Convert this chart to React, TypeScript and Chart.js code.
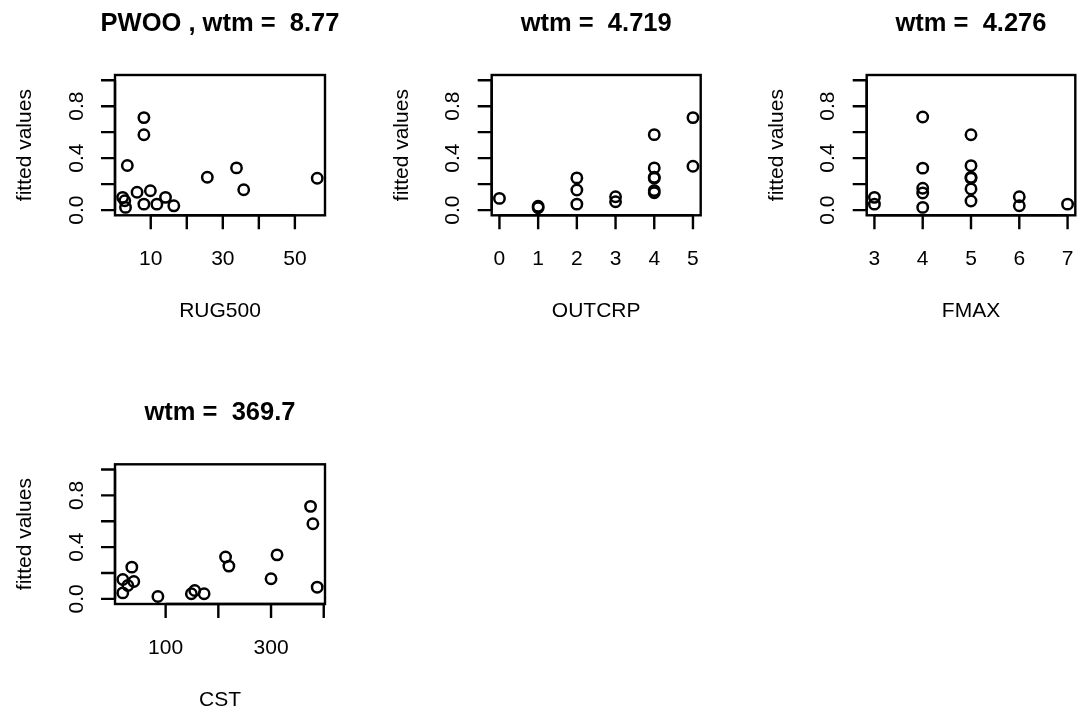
import React, { useEffect, useRef } from "react";
import { Chart, registerables } from "chart.js";

Chart.register(...registerables);

// ---------- data ----------
const titles = ["PWOO , wtm =  8.77", "wtm =  4.719", "wtm =  4.276", "wtm =  369.7"];
const xLabels = ["RUG500", "OUTCRP", "FMAX", "CST"];
const yLabel = "fitted values";

const rugX = [2.2, 2.8, 3.0, 3.5, 6.2, 8.1, 8.1, 8.1, 9.9, 11.7, 14.1, 16.4, 25.7, 33.8, 35.8, 56.2];
const rugY = [0.098, 0.072, 0.021, 0.343, 0.137, 0.712, 0.58, 0.046, 0.149, 0.046, 0.098, 0.033, 0.253, 0.325, 0.157, 0.245];

const outX = [0, 1, 1, 2, 2, 2, 3, 3, 4, 4, 4, 4, 4, 4, 5, 5];
const outY = [0.09, 0.018, 0.03, 0.248, 0.155, 0.046, 0.103, 0.064, 0.581, 0.325, 0.253, 0.245, 0.15, 0.134, 0.712, 0.338];

const fmX = [3, 3, 4, 4, 4, 4, 4, 5, 5, 5, 5, 5, 5, 6, 6, 7];
const fmY = [0.098, 0.046, 0.717, 0.323, 0.168, 0.132, 0.021, 0.58, 0.342, 0.252, 0.245, 0.163, 0.07, 0.103, 0.034, 0.046];

const cstX = [18.7, 18.7, 28.2, 35.8, 39.6, 85.3, 148.8, 155.2, 173, 213.7, 220, 300, 311.4, 375, 379.4, 387.6];
const cstY = [0.149, 0.046, 0.103, 0.245, 0.134, 0.018, 0.039, 0.064, 0.039, 0.323, 0.253, 0.155, 0.34, 0.715, 0.58, 0.09];

const rugTicks = [10, 20, 30, 40, 50];
const rugTickLabels = ["10", "", "30", "", "50"];
const outTicks = [0, 1, 2, 3, 4, 5];
const outTickLabels = ["0", "1", "2", "3", "4", "5"];
const fmTicks = [3, 4, 5, 6, 7];
const fmTickLabels = ["3", "4", "5", "6", "7"];
const cstTicks = [100, 200, 300, 400];
const cstTickLabels = ["100", "", "300", ""];
const yTicks = [0, 0.2, 0.4, 0.6, 0.8, 1.0];
const yTickLabels = ["0.0", "", "0.4", "", "0.8", ""];

const xRanges = [
  [0.08, 58.36],
  [-0.2, 5.2],
  [2.84, 7.16],
  [3.9, 402.4],
];
const yRange = [-0.04, 1.04];

// ---------- layout ----------
const FONT = '"Liberation Sans", Arial, Helvetica, sans-serif';
const LW = 2.4;

type Panel = {
  left: number;
  top: number;
  w: number;
  h: number;
  box: { l: number; r: number; t: number; b: number };
  xs: number[];
  ys: number[];
  ticks: number[];
  tickLabels: string[];
  xr: number[];
  title: string;
  xlab: string;
};

const panels: Panel[] = [
  { left: 0, top: 0, w: 361, h: 356, box: { l: 115, r: 325, t: 75, b: 215.3 }, xs: rugX, ys: rugY, ticks: rugTicks, tickLabels: rugTickLabels, xr: xRanges[0], title: titles[0], xlab: xLabels[0] },
  { left: 361, top: 0, w: 361, h: 356, box: { l: 491.7, r: 700.7, t: 75, b: 215.3 }, xs: outX, ys: outY, ticks: outTicks, tickLabels: outTickLabels, xr: xRanges[1], title: titles[1], xlab: xLabels[1] },
  { left: 722, top: 0, w: 361, h: 356, box: { l: 866.7, r: 1076, t: 75, b: 215.3 }, xs: fmX, ys: fmY, ticks: fmTicks, tickLabels: fmTickLabels, xr: xRanges[2], title: titles[2], xlab: xLabels[2] },
  { left: 0, top: 356, w: 361, h: 357, box: { l: 115, r: 325, t: 464.3, b: 604 }, xs: cstX, ys: cstY, ticks: cstTicks, tickLabels: cstTickLabels, xr: xRanges[3], title: titles[3], xlab: xLabels[3] },
];

function makeAxesPlugin(p: Panel) {
  return {
    id: "rAxes",
    afterDraw(chart: any) {
      const ctx = chart.ctx as CanvasRenderingContext2D;
      const { left, right, top, bottom } = chart.chartArea;
      const xs = chart.scales.x;
      const ys = chart.scales.y;
      ctx.save();
      ctx.strokeStyle = "#000";
      ctx.fillStyle = "#000";
      ctx.lineWidth = LW;
      ctx.lineCap = "butt";
      // box
      ctx.strokeRect(left, top, right - left, bottom - top);
      // x axis
      const x0 = xs.getPixelForValue(p.ticks[0]);
      const x1 = xs.getPixelForValue(p.ticks[p.ticks.length - 1]);
      ctx.beginPath();
      ctx.moveTo(x0, bottom);
      ctx.lineTo(x1, bottom);
      p.ticks.forEach((t) => {
        const px = xs.getPixelForValue(t);
        ctx.moveTo(px, bottom);
        ctx.lineTo(px, bottom + 14);
      });
      ctx.stroke();
      ctx.font = `21px ${FONT}`;
      ctx.textAlign = "center";
      ctx.textBaseline = "alphabetic";
      p.ticks.forEach((t, i) => {
        const lab = p.tickLabels[i];
        if (lab) ctx.fillText(lab, xs.getPixelForValue(t), bottom + 50);
      });
      ctx.fillText(p.xlab, (left + right) / 2, bottom + 102);
      // y axis
      const y0 = ys.getPixelForValue(yTicks[0]);
      const y1 = ys.getPixelForValue(yTicks[yTicks.length - 1]);
      ctx.beginPath();
      ctx.moveTo(left, y0);
      ctx.lineTo(left, y1);
      yTicks.forEach((t) => {
        const py = ys.getPixelForValue(t);
        ctx.moveTo(left, py);
        ctx.lineTo(left - 14, py);
      });
      ctx.stroke();
      yTicks.forEach((t, i) => {
        const lab = yTickLabels[i];
        if (!lab) return;
        ctx.save();
        ctx.translate(left - 32.5, ys.getPixelForValue(t));
        ctx.rotate(-Math.PI / 2);
        ctx.fillText(lab, 0, 0);
        ctx.restore();
      });
      ctx.save();
      ctx.translate(left - 84, (top + bottom) / 2);
      ctx.rotate(-Math.PI / 2);
      ctx.fillText(yLabel, 0, 0);
      ctx.restore();
      // title
      ctx.font = `bold 25.5px ${FONT}`;
      ctx.fillText(p.title, (left + right) / 2, top - 44);
      ctx.restore();
    },
  };
}

function PanelChart({ p }: { p: Panel }) {
  const ref = useRef<HTMLCanvasElement | null>(null);
  useEffect(() => {
    if (!ref.current) return;
    const pad = {
      left: p.box.l - p.left,
      right: p.left + p.w - p.box.r,
      top: p.box.t - p.top,
      bottom: p.top + p.h - p.box.b,
    };
    const chart = new Chart(ref.current, {
      type: "scatter",
      data: {
        datasets: [
          {
            data: p.xs.map((x, i) => ({ x, y: p.ys[i] })),
            pointStyle: "circle",
            pointRadius: 5.2,
            pointBorderWidth: 2.5,
            borderColor: "#000",
            pointBorderColor: "#000",
            backgroundColor: "rgba(0,0,0,0)",
            pointBackgroundColor: "rgba(0,0,0,0)",
            clip: false,
          } as any,
        ],
      },
      options: {
        responsive: false,
        animation: false,
        events: [],
        layout: { padding: pad },
        scales: {
          x: { type: "linear", display: false, min: p.xr[0], max: p.xr[1] },
          y: { type: "linear", display: false, min: yRange[0], max: yRange[1] },
        },
        plugins: { legend: { display: false }, tooltip: { enabled: false }, title: { display: false } },
      },
      plugins: [makeAxesPlugin(p)],
    });
    return () => chart.destroy();
  }, [p]);
  return (
    <canvas
      ref={ref}
      width={p.w}
      height={p.h}
      style={{ position: "absolute", left: p.left, top: p.top, width: p.w, height: p.h }}
    />
  );
}

export default function App() {
  return (
    <div style={{ position: "absolute", left: 0, top: 0, width: 1083, height: 713, background: "#fff", overflow: "hidden" }}>
      {panels.map((p, i) => (
        <PanelChart key={i} p={p} />
      ))}
    </div>
  );
}
